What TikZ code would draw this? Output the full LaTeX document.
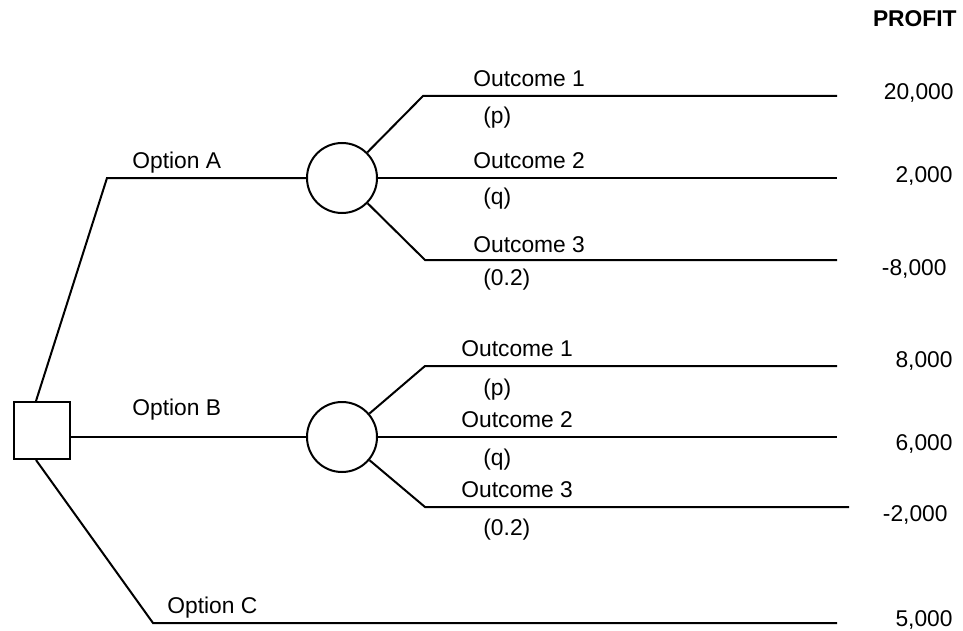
\documentclass[tikz,border=0pt]{standalone}
\usepackage{fontspec}
\setmainfont{Liberation Sans}
\tikzset{
	branch/.style={line width=1pt},
	txt/.style={anchor=base west, inner sep=0pt, font=\fontsize{11.4}{13}\selectfont},
	pay/.style={anchor=base east, inner sep=0pt, font=\fontsize{11.4}{13}\selectfont},
	decision/.style={draw, rectangle, line width=1pt, fill=white, minimum width=28pt, minimum height=28.5pt, inner sep=0pt},
	chance/.style={draw, circle, line width=1pt, fill=white, minimum size=35pt, inner sep=0pt},
}
\begin{document}
\begin{tikzpicture}[x=0.5pt, y=-0.5pt]
				\useasboundingbox (0,0) rectangle (963,631);
				\node[decision] (D)at(42, 430.5) {};
				\node[chance] (CA)at(342, 178) {};
				\node[chance] (CB)at(342, 437) {};
				\coordinate (BA)at(107, 178);
				\coordinate (BC)at(153, 623);
				\coordinate (CE)at(837, 623);
				\coordinate (A1)at(423, 96);
				\coordinate (A1E)at(837, 96);
				\coordinate (A2E)at(837, 178);
				\coordinate (A3)at(425, 260);
				\coordinate (A3E)at(837, 260);
				\coordinate (B1)at(425, 366);
				\coordinate (B1E)at(837, 366);
				\coordinate (B2E)at(837, 437);
				\coordinate (B3)at(425, 507);
				\coordinate (B3E)at(849, 507);
				\draw[branch] ([xshift=-3pt]D.north) -- (BA) -- (CA);
				\draw[branch] (D.east |- CB) -- (CB);
				\draw[branch] ([xshift=-3pt]D.south) -- (BC) -- (CE);
				\draw[branch] (CA) -- (A1) -- (A1E);
				\draw[branch] (CA) -- (A2E);
				\draw[branch] (CA) -- (A3) -- (A3E);
				\draw[branch] (CB) -- (B1) -- (B1E);
				\draw[branch] (CB) -- (B2E);
				\draw[branch] (CB) -- (B3) -- (B3E);
				\node[txt] (OA)at(132, 168) {Option A};
				\node[txt] (OB)at(132, 415) {Option B};
				\node[txt] (OC)at(167, 613) {Option C};
				\node[txt] (LA1)at(473, 87) {Outcome 1};
				\node[txt] (PA1)at(483, 124) {(p)};
				\node[txt] (LA2)at(473, 169) {Outcome 2};
				\node[txt] (PA2)at(483, 204) {(q)};
				\node[txt] (LA3)at(473, 252) {Outcome 3};
				\node[txt] (PA3)at(483, 285) {(0.2)};
				\node[txt] (LB1)at(461, 356) {Outcome 1};
				\node[txt] (PB1)at(483, 395) {(p)};
				\node[txt] (LB2)at(461, 427) {Outcome 2};
				\node[txt] (PB2)at(483, 465) {(q)};
				\node[txt] (LB3)at(461, 497) {Outcome 3};
				\node[txt] (PB3)at(483, 535) {(0.2)};
				\node[pay, font=\fontsize{11.4}{13}\selectfont\bfseries] (PR)at(957, 27) {PROFIT};
				\node[pay] (VA1)at(954, 100) {20,000};
				\node[pay] (VA2)at(953, 182) {2,000};
				\node[pay] (VA3)at(947, 275) {-8,000};
				\node[pay] (VB1)at(953, 367) {8,000};
				\node[pay] (VB2)at(953, 450) {6,000};
				\node[pay] (VB3)at(948, 521) {-2,000};
				\node[pay] (VC)at(953, 626) {5,000};
			\end{tikzpicture}
\end{document}
